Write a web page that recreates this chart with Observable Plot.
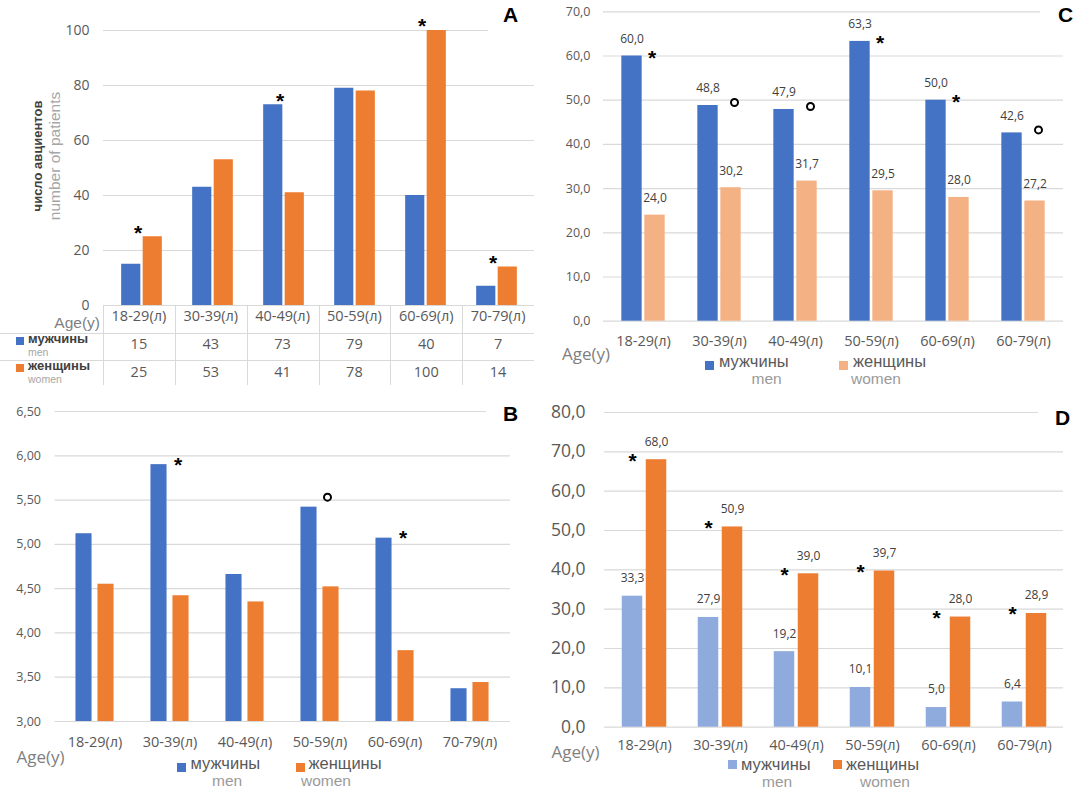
<!DOCTYPE html>
<html>
<head>
<meta charset="utf-8">
<script src="https://cdn.jsdelivr.net/npm/d3@7"></script>
<script src="https://cdn.jsdelivr.net/npm/@observablehq/plot@0.6"></script>
<style>
  body { margin: 0; background: #fff; font-family: "Open Sans", sans-serif; }
  #root { position: relative; width: 1089px; height: 798px; overflow: hidden; background: #fff; }
  .abs { position: absolute; white-space: nowrap; }
  .abs svg { display: block; }
</style>
</head>
<body>
<div id="root"></div>
<script>
// ---------- DATA ----------
const agesAB = ["18-29(л)", "30-39(л)", "40-49(л)", "50-59(л)", "60-69(л)", "70-79(л)"];
const agesCD = ["18-29(л)", "30-39(л)", "40-49(л)", "50-59(л)", "60-69(л)", "60-79(л)"];

// Panel A – number of patients
const menA = [15, 43, 73, 79, 40, 7];
const womenA = [25, 53, 41, 78, 100, 14];
const ticksA = [0, 20, 40, 60, 80, 100];
const starsA = ["18-29(л)", "40-49(л)", "60-69(л)", "70-79(л)"];

// Panel B
const menB = [5.12, 5.90, 4.66, 5.42, 5.07, 3.37];
const womenB = [4.55, 4.42, 4.35, 4.52, 3.80, 3.44];
const ticksB = [3.0, 3.5, 4.0, 4.5, 5.0, 5.5, 6.0, 6.5];
const starsB = ["30-39(л)", "60-69(л)"];
const circlesB = ["50-59(л)"];

// Panel C
const menC = [60.0, 48.8, 47.9, 63.3, 50.0, 42.6];
const womenC = [24.0, 30.2, 31.7, 29.5, 28.0, 27.2];
const ticksC = [0, 10, 20, 30, 40, 50, 60, 70];
const starsC = ["18-29(л)", "50-59(л)", "60-69(л)"];
const circlesC = ["30-39(л)", "40-49(л)", "60-79(л)"];

// Panel D
const menD = [33.3, 27.9, 19.2, 10.1, 5.0, 6.4];
const womenD = [68.0, 50.9, 39.0, 39.7, 28.0, 28.9];
const ticksD = [0, 10, 20, 30, 40, 50, 60, 70, 80];
const starsD = ["18-29(л)", "30-39(л)", "40-49(л)", "50-59(л)", "60-69(л)", "60-79(л)"];

// Labels
const labelMenRu = "мужчины", labelMenEn = "men";
const labelWomenRu = "женщины", labelWomenEn = "women";
const ageLabel = "Age(y)";
const yLabelRu = "число авциентов", yLabelEn = "number of patients";

// ---------- HELPERS ----------
const root = document.getElementById("root");
const fmt1 = d => d.toFixed(1).replace(".", ",");
const fmt2 = d => d.toFixed(2).replace(".", ",");
const rowsOf = (ages, men, women) => ages.map((age, i) => ({age, men: men[i], women: women[i]}));
const GRID = "#d9d9d9";
const TXT = "#595959";
const LIB = '"Liberation Sans", Arial, sans-serif';
const KLIB = 0.0865;

function place(el, left, top) {
  const w = document.createElement("div");
  w.className = "abs";
  w.style.left = left + "px";
  w.style.top = top + "px";
  w.appendChild(el);
  root.appendChild(w);
  return w;
}
// yc = visual centre of the text; lh = line-box height
function text(str, x, yc, fs, color, opts = {}) {
  const lh = opts.lh ?? fs;
  const k = opts.k ?? 0.118;
  const d = document.createElement("div");
  d.className = "abs";
  d.textContent = str;
  d.style.fontSize = fs + "px";
  d.style.lineHeight = lh + "px";
  d.style.height = lh + "px";
  d.style.color = color;
  d.style.fontFamily = opts.family || '"Open Sans", sans-serif';
  if (opts.weight) d.style.fontWeight = opts.weight;
  d.style.top = (yc - lh / 2 - k * fs) + "px";
  if (opts.anchor === "end") { d.style.right = (1089 - x) + "px"; }
  else if (opts.anchor === "middle") { d.style.left = (x - 40) + "px"; d.style.width = "80px"; d.style.textAlign = "center"; }
  else d.style.left = x + "px";
  root.appendChild(d);
  return d;
}
function box(x, y, w, h, color) {
  const d = document.createElement("div");
  d.className = "abs";
  Object.assign(d.style, {left: x + "px", top: y + "px", width: w + "px", height: h + "px", background: color});
  root.appendChild(d);
}
function letter(ch, x, capTop) {
  const fs = 21;
  const d = document.createElement("div");
  d.className = "abs";
  d.textContent = ch;
  Object.assign(d.style, {left: x + "px", top: (capTop + 0.716 * fs - 0.8465 * fs) + "px",
    fontFamily: LIB, fontWeight: "bold", fontSize: fs + "px", lineHeight: fs + "px", color: "#000"});
  root.appendChild(d);
}
function legend(items, yc, ruDy = -2.5, enDy = 15) {
  for (const it of items) {
    box(it.sq, yc - 4, 9, 9, it.color);
    text(it.ru, it.ruX, yc + ruDy, 16.5, TXT, {lh: 12, family: LIB, k: KLIB});
    text(it.en, it.enX, yc + enDy, 15.5, "#9a9a9a", {lh: 12, family: LIB, k: KLIB});
  }
}
function barPair(rows, B, w, g, colors, base) {
  const outer = (B - (2 * w + g)) / 2;
  return [
    Plot.barY(rows, {x: "age", y1: base, y2: "men", fill: colors[0], insetLeft: outer, insetRight: B - outer - w}),
    Plot.barY(rows, {x: "age", y1: base, y2: "women", fill: colors[1], insetLeft: outer + w + g, insetRight: outer})
  ];
}
function grid(ticks, topInset) {
  return [
    Plot.ruleY(ticks.slice(0, -1), {stroke: GRID, strokeWidth: 1.2}),
    Plot.ruleY(ticks.slice(-1), {stroke: GRID, strokeWidth: 1.2, insetRight: topInset})
  ];
}
const starStyle = {text: () => "*", fontSize: 21, fontWeight: "bold", fontFamily: "Liberation Sans", fill: "#000"};
const circStyle = {r: 3.5, stroke: "#000", strokeWidth: 2, fill: "#fff"};
const svgStyle = fs => ({fontFamily: "Open Sans", fontSize: fs + "px", color: TXT, background: "transparent", overflow: "visible"});

// ---------- PANEL A ----------
{
  const rows = rowsOf(agesAB, menA, womenA);
  const W = 540, mL = 103, mR = 6, mT = 30, H = 306, mB = 1;
  const B = (W - mL - mR) / agesAB.length;
  const w = 20, g = 1.5;
  const byAge = new Map(rows.map(r => [r.age, Math.max(r.men, r.women)]));
  const chart = Plot.plot({
    width: W, height: H, marginLeft: mL, marginRight: mR, marginTop: mT, marginBottom: mB,
    style: svgStyle(14),
    x: {type: "band", domain: agesAB, padding: 0, axis: null},
    y: {domain: [ticksA[0], ticksA[ticksA.length - 1]], label: null},
    marks: [
      ...grid(ticksA, 46),
      Plot.axisY(ticksA, {tickSize: 0, tickPadding: 14, fontSize: 14, label: null}),
      ...barPair(rows, B, w, g, ["#4472C4", "#ED7D31"], 0),
      Plot.text(starsA, {x: d => d, y: d => byAge.get(d), dx: -4, dy: -3.75, ...starStyle}),
      Plot.text([yLabelRu], {frameAnchor: "left", textAnchor: "middle", rotate: -90, dx: -66, dy: -12, fontSize: 13, fontWeight: "bold", fontFamily: "Liberation Sans", fill: "#404040"}),
      Plot.text([yLabelEn], {frameAnchor: "left", textAnchor: "middle", rotate: -90, dx: -48.5, dy: -12, fontSize: 15.5, fontFamily: "Liberation Sans", fill: "#a6a6a6"})
    ]
  });
  place(chart, 0, 0);

  // data table below the chart
  const top = 305, r1 = 333, r2 = 360, bottom = 385;
  const line = (x, y, w, h) => box(x, y, w, h, GRID);
  line(0, r1, mL + B * agesAB.length, 1);
  line(0, r2, mL + B * agesAB.length, 1);
  agesAB.forEach((a, i) => line(mL + B * i, top, 1, bottom - top));
  agesAB.forEach((a, i) => {
    const cx = mL + B * (i + 0.5);
    text(a, cx, 318, 14.5, TXT, {anchor: "middle", lh: 16});
    text(String(menA[i]), cx, 344, 14.5, TXT, {anchor: "middle", lh: 16, k: 0.03});
    text(String(womenA[i]), cx, 372, 14.5, TXT, {anchor: "middle", lh: 16, k: 0.03});
  });
  text(ageLabel, 100, 323, 15.5, "#7f7f7f", {anchor: "end", lh: 14, family: LIB, k: 0.0});
  box(16, 336.5, 8, 8, "#4472C4");
  text(labelMenRu, 28, 340, 13, "#404040", {weight: "bold", lh: 10, family: LIB, k: KLIB});
  text(labelMenEn, 28, 353, 10.5, "#a6a6a6", {lh: 8, family: LIB, k: KLIB});
  box(16, 363.5, 8, 8, "#ED7D31");
  text(labelWomenRu, 28, 367, 13, "#404040", {weight: "bold", lh: 10, family: LIB, k: KLIB});
  text(labelWomenEn, 28, 380, 10.5, "#a6a6a6", {lh: 8, family: LIB, k: KLIB});
  letter("A", 503, 7);
}

// ---------- PANEL B ----------
{
  const rows = rowsOf(agesAB, menB, womenB);
  const W = 540, mL = 54.5, mR = 30, mT = 11, mB = 34, H = 355;
  const B = (W - mL - mR) / agesAB.length;
  const w = 17, g = 5;
  const menBy = new Map(rows.map(r => [r.age, r.men]));
  const chart = Plot.plot({
    width: W, height: H, marginLeft: mL, marginRight: mR, marginTop: mT, marginBottom: mB,
    style: svgStyle(12.5),
    x: {type: "band", domain: agesAB, padding: 0, label: null},
    y: {domain: [ticksB[0], ticksB[ticksB.length - 1]], label: null},
    marks: [
      ...grid(ticksB, 24),
      Plot.axisY(ticksB, {tickSize: 0, tickPadding: 14, fontSize: 12.5, tickFormat: fmt2, label: null}),
      Plot.axisX({tickSize: 0, tickPadding: 15, fontSize: 14.5, label: null}),
      ...barPair(rows, B, w, g, ["#4472C4", "#ED7D31"], ticksB[0]),
      Plot.text(starsB, {x: d => d, y: d => menBy.get(d), dx: 8, dy: 0.25, ...starStyle}),
      Plot.dot(circlesB, {x: d => d, y: d => menBy.get(d), dx: 7.5, dy: -10, ...circStyle})
    ]
  });
  place(chart, 0, 400);
  text(ageLabel, 16.5, 758, 17, "#7f7f7f", {k: 0.09});
  legend([
    {sq: 177, color: "#4472C4", ru: labelMenRu, en: labelMenEn, ruX: 190.5, enX: 212},
    {sq: 296, color: "#ED7D31", ru: labelWomenRu, en: labelWomenEn, ruX: 308.5, enX: 301}
  ], 767);
  letter("B", 503, 406);
}

// ---------- PANEL C ----------
{
  const rows = rowsOf(agesCD, menC, womenC);
  const W = 549, mL = 63, mR = 26, mT = 11.3, mB = 35.3, H = 356;
  const B = (W - mL - mR) / agesCD.length;
  const w = 21, g = 2;
  const menBy = new Map(rows.map(r => [r.age, r.men]));
  const chart = Plot.plot({
    width: W, height: H, marginLeft: mL, marginRight: mR, marginTop: mT, marginBottom: mB,
    style: svgStyle(12.5),
    x: {type: "band", domain: agesCD, padding: 0, label: null},
    y: {domain: [ticksC[0], ticksC[ticksC.length - 1]], label: null},
    marks: [
      ...grid(ticksC, 23),
      Plot.axisY(ticksC, {tickSize: 0, tickPadding: 13, fontSize: 12.5, tickFormat: fmt1, label: null}),
      Plot.axisX({tickSize: 0, tickPadding: 15, fontSize: 14.5, label: null}),
      ...barPair(rows, B, w, g, ["#4472C4", "#F4B183"], 0),
      Plot.text(rows, {x: "age", y: "men", text: d => fmt1(d.men), dx: -(w + g) / 2, dy: -17, fontSize: 12, fill: "#404040"}),
      Plot.text(rows, {x: "age", y: "women", text: d => fmt1(d.women), dx: (w + g) / 2, dy: -17, fontSize: 12, fill: "#404040"}),
      Plot.text(starsC, {x: d => d, y: d => menBy.get(d), dx: 8.5, dy: 2.25, ...starStyle}),
      Plot.dot(circlesC, {x: d => d, y: d => menBy.get(d), dx: 15, dy: -3, ...circStyle})
    ]
  });
  place(chart, 540, 0);
  text(ageLabel, 562, 355, 17, "#7f7f7f", {k: 0.09});
  legend([
    {sq: 705, color: "#4472C4", ru: labelMenRu, en: labelMenEn, ruX: 719, enX: 751.5},
    {sq: 839, color: "#F4B183", ru: labelWomenRu, en: labelWomenEn, ruX: 853, enX: 851}
  ], 365);
  letter("C", 1058, 7);
}

// ---------- PANEL D ----------
{
  const rows = rowsOf(agesCD, menD, womenD);
  const W = 549, mL = 64, mR = 26, mT = 12, mB = 35, H = 361.7;
  const B = (W - mL - mR) / agesCD.length;
  const w = 21, g = 3;
  const womenBy = new Map(rows.map(r => [r.age, r.women]));
  const chart = Plot.plot({
    width: W, height: H, marginLeft: mL, marginRight: mR, marginTop: mT, marginBottom: mB,
    style: svgStyle(17.5),
    x: {type: "band", domain: agesCD, padding: 0, label: null},
    y: {domain: [ticksD[0], ticksD[ticksD.length - 1]], label: null},
    marks: [
      ...grid(ticksD, 25),
      Plot.axisY(ticksD, {tickSize: 0, tickPadding: 19, fontSize: 17.5, tickFormat: fmt1, label: null}),
      Plot.axisX({tickSize: 0, tickPadding: 13, fontSize: 14.5, label: null}),
      ...barPair(rows, B, w, g, ["#8FAADC", "#ED7D31"], 0),
      Plot.text(rows, {x: "age", y: "men", text: d => fmt1(d.men), dx: -(w + g) / 2, dy: -18, fontSize: 12, fill: "#404040"}),
      Plot.text(rows, {x: "age", y: "women", text: d => fmt1(d.women), dx: (w + g) / 2, dy: -18, fontSize: 12, fill: "#404040"}),
      Plot.text(starsD, {x: d => d, y: d => womenBy.get(d), dx: -(w + g) / 2, dy: 1.25, ...starStyle})
    ]
  });
  place(chart, 540, 400);
  text(ageLabel, 551.5, 752.7, 17, "#7f7f7f", {k: 0.09});
  legend([
    {sq: 728, color: "#8FAADC", ru: labelMenRu, en: labelMenEn, ruX: 741, enX: 762},
    {sq: 833, color: "#ED7D31", ru: labelWomenRu, en: labelWomenEn, ruX: 846, enX: 860}
  ], 764, 1.5, 19.5);
  letter("D", 1055, 410);
}
</script>
</body>
</html>
